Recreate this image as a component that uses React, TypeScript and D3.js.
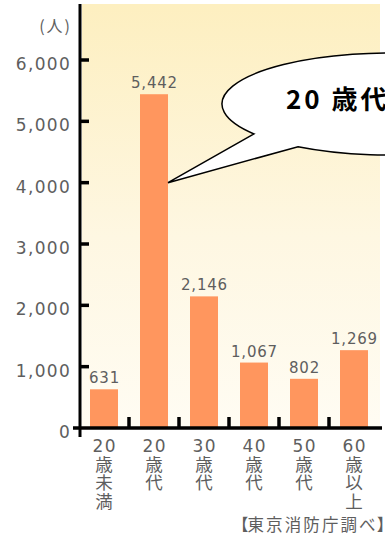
import React from "react";
import * as d3 from "d3";

// 年代別の人数（人）
const categories: string[] = ["20歳未満", "20歳代", "30歳代", "40歳代", "50歳代", "60歳以上"];
const values: number[] = [631, 5442, 2146, 1067, 802, 1269];
const yTicks: number[] = [0, 1000, 2000, 3000, 4000, 5000, 6000];
const unitLabel = "(人)";
const sourceOpen = "【";
const sourceBody = "東京消防庁調べ";
const sourceClose = "】";
const calloutLabel = "20 歳代";
const calloutIndex = 1;

const W = 385;
const H = 538;
const FONT = "'Noto Sans CJK JP', 'Noto Sans', sans-serif";
const NUM_FONT = "'DejaVu Sans', 'Noto Sans CJK JP', sans-serif";
const TEXT_GRAY = "#5e5e5e";
const BAR_COLOR = "#FF965E";

// split "20歳未満" -> ["20", "歳", "未", "満"]
function splitLabel(s: string): string[] {
  const m = s.match(/^(\d+)(.*)$/);
  if (!m) return s.split("");
  return [m[1], ...m[2].split("")];
}

export default function App() {
  const axisX = 80;
  const x = d3
    .scaleBand<string>()
    .domain(categories)
    .range([79, 379])
    .paddingInner(0.44)
    .paddingOuter(0.22);
  const y = d3.scaleLinear().domain([0, 6000]).range([428, 60]);
  const y0 = y(0);
  const fmt = d3.format(",");

  // speech-bubble geometry
  const ell = { cx: 390, cy: 102, rx: 168, ry: 51 };
  const onEllipse = (px: number) => {
    const dx = (px - ell.cx) / ell.rx;
    return ell.cy + ell.ry * Math.sqrt(Math.max(0, 1 - dx * dx));
  };
  const tipCat = categories[calloutIndex];
  const tip: [number, number] = [
    (x(tipCat) as number) + x.bandwidth(),
    y(values[calloutIndex] * 0.735),
  ];
  const ax = 254;
  const bx = 298;
  const A: [number, number] = [ax, onEllipse(ax) + 2];
  const B: [number, number] = [bx, onEllipse(bx) + 2];
  const calloutPath =
    `M${A[0]},${A[1]} L${tip[0]},${tip[1]} L${B[0]},${B[1]} ` +
    `A${ell.rx},${ell.ry} 0 1 0 ${A[0]},${A[1]} Z`;

  const separators = categories.slice(0, -1).map(
    (c) => (x(c) as number) + x.bandwidth() + (x.step() * x.paddingInner()) / 2
  );

  return (
    <svg
      width={W}
      height={H}
      style={{ position: "absolute", left: 0, top: 0, background: "#fff" }}
      fontFamily={FONT}
    >
      <defs>
        <linearGradient id="panelGrad" x1="0" y1="0" x2="0" y2="1">
          <stop offset="0" stopColor="#FDEFC0" />
          <stop offset="0.55" stopColor="#FEF7E2" />
          <stop offset="1" stopColor="#FFFCF3" />
        </linearGradient>
      </defs>

      {/* plot background */}
      <rect x={82} y={4} width={298} height={y0 - 4} fill="url(#panelGrad)" />

      {/* bars */}
      {categories.map((c, i) => (
        <rect
          key={c}
          x={x(c)}
          y={y(values[i])}
          width={x.bandwidth()}
          height={y0 - y(values[i])}
          fill={BAR_COLOR}
        />
      ))}

      {/* value labels */}
      {categories.map((c, i) => (
        <text
          key={"v" + c}
          x={(x(c) as number) + x.bandwidth() / 2 + 0.5}
          y={y(values[i]) - 6}
          textAnchor="middle"
          fontFamily={NUM_FONT}
          fontSize={15}
          letterSpacing={0.8}
          fill={TEXT_GRAY}
        >
          {fmt(values[i])}
        </text>
      ))}

      {/* y axis */}
      <line x1={axisX} y1={4} x2={axisX} y2={437} stroke="#000" strokeWidth={3} />
      {yTicks.map((t) => (
        <g key={t}>
          {t > 0 && (
            <line x1={axisX} x2={axisX + 9} y1={y(t)} y2={y(t)} stroke="#000" strokeWidth={3.5} />
          )}
          <text
            x={71}
            y={y(t) + 10}
            textAnchor="end"
            fontFamily={NUM_FONT}
            fontSize={17}
            letterSpacing={1.3}
            fill={TEXT_GRAY}
          >
            {fmt(t)}
          </text>
        </g>
      ))}
      <text x={72} y={32} textAnchor="end" fontSize={16} letterSpacing={2} fill={TEXT_GRAY}>
        {unitLabel}
      </text>

      {/* x axis */}
      <line x1={73} x2={382} y1={y0} y2={y0} stroke="#000" strokeWidth={3.5} />
      {separators.map((sx, i) => (
        <line key={i} x1={sx} x2={sx} y1={y0 - 11} y2={y0} stroke="#000" strokeWidth={3.5} />
      ))}

      {/* category labels, stacked vertically */}
      {categories.map((c) => {
        const cx = (x(c) as number) + x.bandwidth() / 2;
        return splitLabel(c).map((part, j) => (
          <text
            key={"c" + c + j}
            x={cx + (j === 0 ? 0.8 : 0)}
            y={452 + j * 18.5}
            textAnchor="middle"
            fontFamily={j === 0 ? NUM_FONT : FONT}
            fontSize={j === 0 ? 17 : 17.5}
            letterSpacing={j === 0 ? 1.5 : 0}
            fill={TEXT_GRAY}
          >
            {part}
          </text>
        ));
      })}

      {/* source */}
      <text x={232} y={531} fontSize={16.5} fill={TEXT_GRAY}>
        <tspan>{sourceOpen}</tspan>
        <tspan dx={-1} letterSpacing={2.1}>
          {sourceBody}
        </tspan>
        <tspan dx={-1}>{sourceClose}</tspan>
      </text>

      {/* speech bubble */}
      <path d={calloutPath} fill="#fff" stroke="#000" strokeWidth={1.5} strokeLinejoin="miter" />
      <text x={286} y={109} fontSize={26} fontWeight={700} letterSpacing={3} fill="#000">
        {calloutLabel}
      </text>
    </svg>
  );
}
